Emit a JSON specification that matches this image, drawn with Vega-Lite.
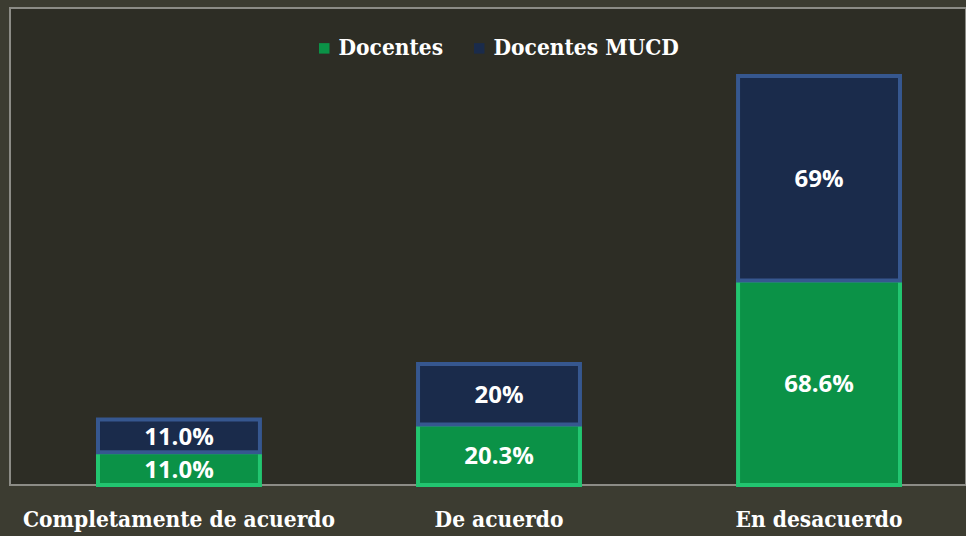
{
  "$schema": "https://vega.github.io/schema/vega-lite/v6.json",
  "width": 956,
  "height": 477,
  "padding": {"left": 10, "top": 8, "right": 0, "bottom": 51},
  "autosize": {"type": "none"},
  "background": "#3c3c31",
  "config": {
    "view": {"fill": "#2d2d25", "stroke": "#8c8c86", "strokeWidth": 2}
  },
  "data": {
    "values": [
      {"categoria": "Completamente de acuerdo", "serie": "Docentes", "valor": 11.0, "etiqueta": "11.0%"},
      {"categoria": "Completamente de acuerdo", "serie": "Docentes MUCD", "valor": 11.0, "etiqueta": "11.0%"},
      {"categoria": "De acuerdo", "serie": "Docentes", "valor": 20.3, "etiqueta": "20.3%"},
      {"categoria": "De acuerdo", "serie": "Docentes MUCD", "valor": 20.3, "etiqueta": "20%"},
      {"categoria": "En desacuerdo", "serie": "Docentes", "valor": 68.6, "etiqueta": "68.6%"},
      {"categoria": "En desacuerdo", "serie": "Docentes MUCD", "valor": 68.6, "etiqueta": "69%"}
    ]
  },
  "transform": [
    {"stack": "valor", "groupby": ["categoria"], "sort": [{"field": "serie", "order": "ascending"}], "as": ["v0", "v1"]}
  ],
  "encoding": {
    "x": {
      "field": "categoria",
      "type": "nominal",
      "sort": null,
      "scale": {"range": [0, 978], "paddingInner": 0.494, "paddingOuter": 0.275},
      "axis": {
        "title": null,
        "labelAngle": 0,
        "labelFont": "DejaVu Serif Condensed",
        "labelFontWeight": "bold",
        "labelFontSize": 22.5,
        "labelColor": "#ffffff",
        "labelPadding": 23,
        "labelLimit": 500,
        "ticks": false,
        "domain": false,
        "grid": false
      }
    },
    "y": {"field": "v0", "type": "quantitative", "scale": {"domain": [0, 160]}, "axis": null},
    "y2": {"field": "v1"}
  },
  "layer": [
    {
      "mark": {"type": "bar", "strokeWidth": 4},
      "encoding": {
        "color": {
          "field": "serie",
          "type": "nominal",
          "scale": {"domain": ["Docentes", "Docentes MUCD"], "range": ["#0b9247", "#1a2b4b"]},
          "legend": {
            "title": null,
            "orient": "none",
            "legendX": 303,
            "legendY": 29,
            "direction": "horizontal",
            "symbolType": "square",
            "symbolSize": 110,
            "symbolStrokeWidth": 0,
            "labelFont": "DejaVu Serif Condensed",
            "labelFontWeight": "bold",
            "labelFontSize": 22.5,
            "labelColor": "#ffffff",
            "labelLimit": 500,
            "labelOffset": 3,
            "columnPadding": 24
          }
        },
        "stroke": {
          "field": "serie",
          "type": "nominal",
          "scale": {"domain": ["Docentes", "Docentes MUCD"], "range": ["#22c570", "#36578f"]},
          "legend": null
        }
      }
    },
    {
      "mark": {
        "type": "text",
        "font": "Open Sans",
        "fontWeight": "bold",
        "fontSize": 24,
        "color": "#ffffff",
        "baseline": "middle",
        "align": "center",
        "dy": {"expr": "(scale('y', datum.v1) - scale('y', datum.v0)) / 2 + 2"}
      },
      "encoding": {
        "text": {"field": "etiqueta", "type": "nominal"}
      }
    }
  ]
}
